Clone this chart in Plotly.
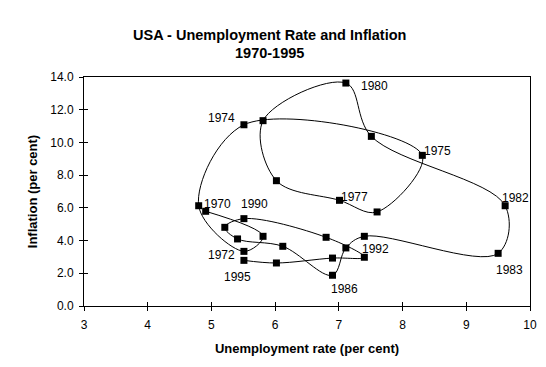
import plotly.graph_objects as go

# ---- data ----
years = list(range(1970, 1996))
unemployment = [4.91, 5.81, 5.51, 4.80, 5.51, 8.31, 7.60, 7.01, 6.02, 5.81,
                7.11, 7.51, 9.61, 9.50, 7.40, 7.11, 6.90, 6.12, 5.41, 5.21,
                5.51, 6.80, 7.40, 6.90, 6.02, 5.51]
inflation = [5.79, 4.26, 3.34, 6.13, 11.08, 9.21, 5.75, 6.46, 7.66, 11.33,
             13.63, 10.37, 6.13, 3.22, 4.26, 3.55, 1.88, 3.65, 4.10, 4.81,
             5.34, 4.20, 2.98, 2.93, 2.63, 2.79]
labelled_years = [1970, 1972, 1974, 1975, 1977, 1980, 1982, 1983, 1986, 1990, 1992, 1995]
x_ticks = [3, 4, 5, 6, 7, 8, 9, 10]
y_ticks = [0, 2, 4, 6, 8, 10, 12, 14]

title_line1 = "USA - Unemployment Rate and Inflation"
title_line2 = "1970-1995"
x_title = "Unemployment rate (per cent)"
y_title = "Inflation (per cent)"

# ---- label placement (pixel offsets from each point) ----
label_style = {
    1970: dict(xanchor="left", xshift=-4, yshift=7),
    1972: dict(xanchor="right", xshift=-7, yshift=-4),
    1974: dict(xanchor="right", xshift=-7, yshift=7),
    1975: dict(xanchor="left", xshift=0, yshift=4),
    1977: dict(xanchor="left", xshift=0, yshift=3),
    1980: dict(xanchor="left", xshift=13, yshift=-3),
    1982: dict(xanchor="left", xshift=-5, yshift=8),
    1983: dict(xanchor="left", xshift=-4, yshift=-17),
    1986: dict(xanchor="center", xshift=12, yshift=-14),
    1990: dict(xanchor="left", xshift=-5, yshift=15),
    1992: dict(xanchor="left", xshift=-4, yshift=8),
    1995: dict(xanchor="center", xshift=-6, yshift=-17),
}

FONT = "Liberation Sans, Arial, sans-serif"

fig = go.Figure()
fig.add_trace(go.Scatter(
    x=unemployment, y=inflation, mode="lines+markers",
    line=dict(color="black", width=1, shape="spline", smoothing=1.0),
    marker=dict(symbol="square", size=7, color="black"),
    showlegend=False, hoverinfo="skip",
))

annotations = []
for yr in labelled_years:
    i = years.index(yr)
    st = label_style[yr]
    annotations.append(dict(
        x=unemployment[i], y=inflation[i], xref="x", yref="y",
        text=str(yr), showarrow=False, yanchor="middle",
        font=dict(family=FONT, size=12, color="black"), **st))

annotations.append(dict(text="<b>%s</b>" % title_line1, x=0.415, y=1.183,
                        xref="paper", yref="paper", showarrow=False,
                        xanchor="center", yanchor="middle",
                        font=dict(family=FONT, size=14.5, color="black")))
annotations.append(dict(text="<b>%s</b>" % title_line2, x=0.415, y=1.104,
                        xref="paper", yref="paper", showarrow=False,
                        xanchor="center", yanchor="middle",
                        font=dict(family=FONT, size=14.5, color="black")))

axis_common = dict(showgrid=False, zeroline=False, linecolor="black", linewidth=1,
                   tickcolor="black", ticklen=4, tickwidth=1,
                   tickfont=dict(family=FONT, size=12, color="black"))

fig.update_layout(
    width=546, height=367,
    margin=dict(l=76, r=24, t=69, b=69),
    paper_bgcolor="white", plot_bgcolor="white",
    annotations=annotations,
    xaxis=dict(range=[3, 10], tickvals=x_ticks, ticks="outside", mirror=True,
               showline=True, ticklabelstandoff=4,
               title=dict(text="<b>%s</b>" % x_title, standoff=12,
                          font=dict(family=FONT, size=13, color="black")),
               **axis_common),
    yaxis=dict(range=[0, 14], tickvals=y_ticks, tickformat=".1f", ticks="outside",
               mirror=True, showline=True, ticklabelstandoff=3,
               title=dict(text="<b>%s</b>" % y_title, standoff=9,
                          font=dict(family=FONT, size=13, color="black")),
               **axis_common),
    xaxis2=dict(range=[3, 10], tickvals=x_ticks, ticks="inside", overlaying="x",
                anchor="y", side="bottom", showticklabels=False, showline=False,
                showgrid=False, zeroline=False, tickcolor="black", ticklen=4),
    yaxis2=dict(range=[0, 14], tickvals=y_ticks, ticks="inside", overlaying="y",
                anchor="x", side="left", showticklabels=False, showline=False,
                showgrid=False, zeroline=False, tickcolor="black", ticklen=4),
)
fig.add_trace(go.Scatter(x=[None], y=[None], xaxis="x2", yaxis="y2",
                         showlegend=False, hoverinfo="skip"))

fig.write_html("out.html")
